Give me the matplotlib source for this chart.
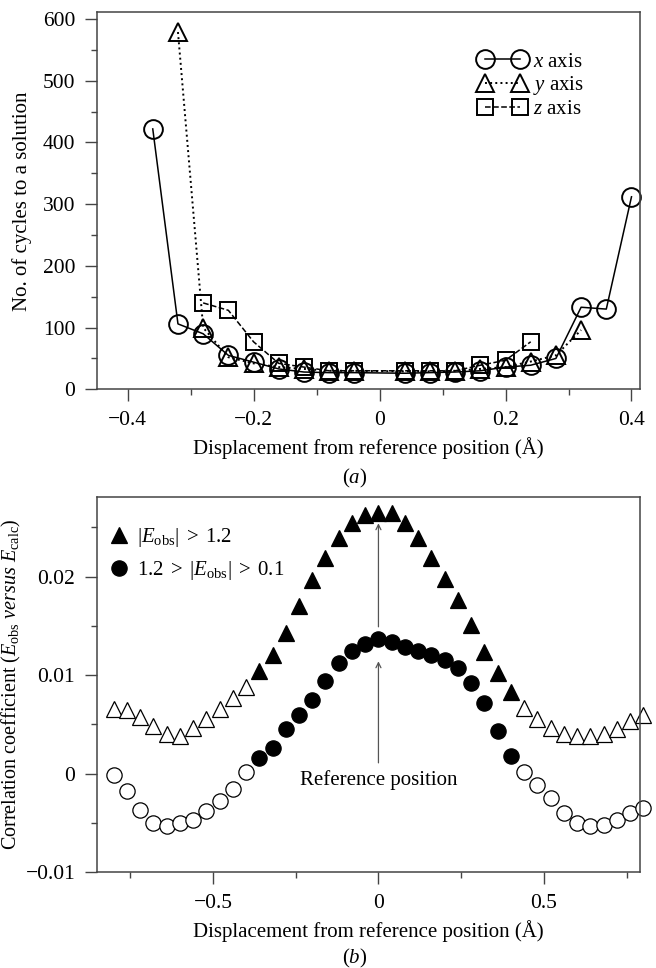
import numpy as np
import matplotlib
matplotlib.use("Agg")
import matplotlib.pyplot as plt
from matplotlib.ticker import MultipleLocator, FixedLocator

plt.rcParams['font.family'] = ['Liberation Serif', 'DejaVu Serif']
plt.rcParams['mathtext.fontset'] = 'custom'
plt.rcParams['mathtext.rm'] = 'Liberation Serif'
plt.rcParams['mathtext.it'] = 'Liberation Serif:italic'
plt.rcParams['mathtext.bf'] = 'Liberation Serif:bold'

# ---------------- Panel (a) data ----------------
x_xaxis = [-0.36, -0.32, -0.28, -0.24, -0.20, -0.16, -0.12, -0.08, -0.04,
           0.04, 0.08, 0.12, 0.16, 0.20, 0.24, 0.28, 0.32, 0.36, 0.40]
y_xaxis = [422, 106, 90, 55, 44, 33, 28, 27, 27,
           26, 27, 28, 30, 36, 39, 50, 133, 130, 312]

x_yaxis = [-0.32, -0.28, -0.24, -0.20, -0.16, -0.12, -0.08, -0.04,
           0.04, 0.08, 0.12, 0.16, 0.20, 0.24, 0.28, 0.32]
y_yaxis = [579, 100, 52, 42, 36, 33, 30, 30,
           29, 29, 30, 33, 36, 45, 55, 96]

x_zaxis = [-0.28, -0.24, -0.20, -0.16, -0.12, -0.08, -0.04,
           0.04, 0.08, 0.12, 0.16, 0.20, 0.24]
y_zaxis = [140, 128, 77, 42, 36, 30, 30,
           30, 30, 30, 39, 47, 77]

# ---------------- Panel (b) data ----------------
disp_b = [-0.80, -0.76, -0.72, -0.68, -0.64, -0.60, -0.56, -0.52, -0.48, -0.44,
          -0.40, -0.36, -0.32, -0.28, -0.24, -0.20, -0.16, -0.12, -0.08, -0.04,
          0.00, 0.04, 0.08, 0.12, 0.16, 0.20, 0.24, 0.28, 0.32, 0.36,
          0.40, 0.44, 0.48, 0.52, 0.56, 0.60, 0.64, 0.68, 0.72, 0.76, 0.80]
cc_high = [0.0066, 0.0065, 0.0058, 0.0048, 0.0040, 0.0038, 0.0046, 0.0055, 0.0066, 0.0077,
           0.0088, 0.0104, 0.0120, 0.0143, 0.0170, 0.0197, 0.0219, 0.0239, 0.0254, 0.0262,
           0.0264, 0.0264, 0.0254, 0.0239, 0.0219, 0.0198, 0.0176, 0.0151, 0.0123, 0.0102,
           0.0083, 0.0067, 0.0055, 0.0046, 0.0040, 0.0038, 0.0038, 0.0040, 0.0045, 0.0053, 0.0060]
cc_mid = [-0.0001, -0.0018, -0.0037, -0.0050, -0.0053, -0.0050, -0.0047, -0.0038, -0.0028, -0.0015,
          0.0002, 0.0016, 0.0026, 0.0045, 0.0060, 0.0075, 0.0094, 0.0112, 0.0124, 0.0132,
          0.0137, 0.0134, 0.0129, 0.0124, 0.0120, 0.0115, 0.0107, 0.0092, 0.0072, 0.0043,
          0.0018, 0.0002, -0.0011, -0.0025, -0.0040, -0.0050, -0.0053, -0.0052, -0.0047, -0.0040, -0.0035]

ref_x = 0.0

FS_TICK = 15.5
FS_LAB = 15

fig = plt.figure(figsize=(6.56, 9.68), dpi=100)
W, H = 656.0, 968.0

def axes_px(l, r, t, b):
    return fig.add_axes([l / W, 1 - b / H, (r - l) / W, (b - t) / H])

spine_col = '#444444'

def style_axes(ax):
    for s in ax.spines.values():
        s.set_color(spine_col)
        s.set_linewidth(1.1)
    ax.tick_params(which='major', direction='out', length=8.5, width=1.0,
                   color=spine_col, labelsize=FS_TICK, pad=7)
    ax.tick_params(which='minor', direction='out', length=4.5, width=1.0,
                   color=spine_col)
    ax.tick_params(top=False, right=False, which='both')

AX_L, AX_R = 96.7, 640.0

# ---------------- Panel (a) ----------------
T1, B1 = 12.3, 389.3
ax1 = axes_px(AX_L, AX_R, T1, B1)
style_axes(ax1)
mk = dict(markerfacecolor='none', markeredgecolor='black', color='black', clip_on=False)
ax1.plot(x_xaxis, y_xaxis, '-', marker='o', markersize=13.5, markeredgewidth=1.4,
         linewidth=1.1, label='$x$ axis', **mk)
ax1.plot(x_yaxis, y_yaxis, ':', marker='^', markersize=13.5, markeredgewidth=1.4,
         linewidth=1.4, label='$y$ axis', **mk)
ax1.plot(x_zaxis, y_zaxis, '--', marker='s', markersize=11.5, markeredgewidth=1.4,
         linewidth=1.1, label='$z$ axis', **mk)
ax1.set_xlim(-0.449, 0.4135)
ax1.set_ylim(0, 611)
ax1.xaxis.set_major_locator(FixedLocator([-0.4, -0.2, 0.0, 0.2, 0.4]))
ax1.xaxis.set_minor_locator(FixedLocator([-0.3, -0.1, 0.1, 0.3]))
ax1.yaxis.set_major_locator(MultipleLocator(100))
ax1.yaxis.set_minor_locator(MultipleLocator(50))
ax1.set_xticklabels(['\u22120.4', '\u22120.2', '0', '0.2', '0.4'])
ax1.set_ylabel('No. of cycles to a solution', fontsize=FS_LAB)
ax1.yaxis.set_label_coords((32 - AX_L) / (AX_R - AX_L), 0.5)
ax1.set_xlabel('Displacement from reference position (\u00c5)', fontsize=FS_LAB, labelpad=5)
ax1.legend(loc='upper right',
           bbox_to_anchor=((584 - AX_L) / (AX_R - AX_L), (B1 - 52) / (B1 - T1)),
           frameon=False, numpoints=2, handlelength=2.25, handletextpad=0.33,
           labelspacing=0.12, fontsize=FS_LAB, borderaxespad=0, borderpad=0)
fig.text(355 / W, 1 - 478 / H, '($a$)', ha='center', va='center', fontsize=FS_LAB)

# ---------------- Panel (b) ----------------
T2, B2 = 496.7, 872.3
ax2 = axes_px(AX_L, AX_R, T2, B2)
style_axes(ax2)
db = np.array(disp_b)
hi = np.array(cc_high)
mi = np.array(cc_mid)
inner = (db > -0.38) & (db < 0.42)
outer = ~inner
ax2.plot(db[outer], hi[outer], linestyle='none', marker='^', markersize=12,
         markerfacecolor='white', markeredgecolor='black', markeredgewidth=0.9, clip_on=False)
ax2.plot(db[outer], mi[outer], linestyle='none', marker='o', markersize=11,
         markerfacecolor='white', markeredgecolor='black', markeredgewidth=0.9, clip_on=False)
ax2.plot(db[inner], hi[inner], linestyle='none', marker='^', markersize=12,
         markerfacecolor='black', markeredgecolor='black', markeredgewidth=0.9,
         label=r'$|E_{\mathrm{obs}}|\;>\;1.2$')
ax2.plot(db[inner], mi[inner], linestyle='none', marker='o', markersize=11,
         markerfacecolor='black', markeredgecolor='black', markeredgewidth=0.9,
         label=r'$1.2\;>\;|E_{\mathrm{obs}}|\;>\;0.1$')
ax2.set_xlim(-0.851, 0.79)
ax2.set_ylim(-0.01, 0.0281)
ax2.xaxis.set_major_locator(FixedLocator([-0.5, 0.0, 0.5]))
ax2.xaxis.set_minor_locator(FixedLocator([-0.75, -0.25, 0.25, 0.75]))
ax2.set_xticklabels(['\u22120.5', '0', '0.5'])
ax2.yaxis.set_major_locator(FixedLocator([-0.01, 0.0, 0.01, 0.02]))
ax2.yaxis.set_minor_locator(FixedLocator([-0.005, 0.005, 0.015, 0.025]))
ax2.set_yticklabels(['\u22120.01', '0', '0.01', '0.02'])
ax2.set_ylabel(r'Correlation coefficient ($E_{\mathrm{obs}}$ $\mathit{versus}$ $E_{\mathrm{calc}}$)',
               fontsize=14.5)
ax2.yaxis.set_label_coords((23 - AX_L) / (AX_R - AX_L), 0.5)
ax2.set_xlabel('Displacement from reference position (\u00c5)', fontsize=FS_LAB, labelpad=5)
ax2.legend(loc='upper left',
           bbox_to_anchor=((110 - AX_L) / (AX_R - AX_L), (B2 - 526) / (B2 - T2)),
           frameon=False, numpoints=1, handlelength=0.9, handletextpad=0.4,
           labelspacing=0.5, fontsize=FS_LAB, borderaxespad=0, borderpad=0)
arrow_kw = dict(arrowstyle='->', color='#555555', lw=0.9, shrinkA=0, shrinkB=0,
                mutation_scale=9)
ax2.annotate('', xy=(ref_x, 0.0114), xytext=(ref_x, 0.0011), arrowprops=arrow_kw)
ax2.annotate('', xy=(ref_x, 0.0254), xytext=(ref_x, 0.0149), arrowprops=arrow_kw)
ax2.text(ref_x, -0.0006, 'Reference position', ha='center', va='center', fontsize=FS_LAB)
fig.text(355 / W, 1 - 958 / H, '($b$)', ha='center', va='center', fontsize=FS_LAB)

fig.savefig('out.png', dpi=100)
